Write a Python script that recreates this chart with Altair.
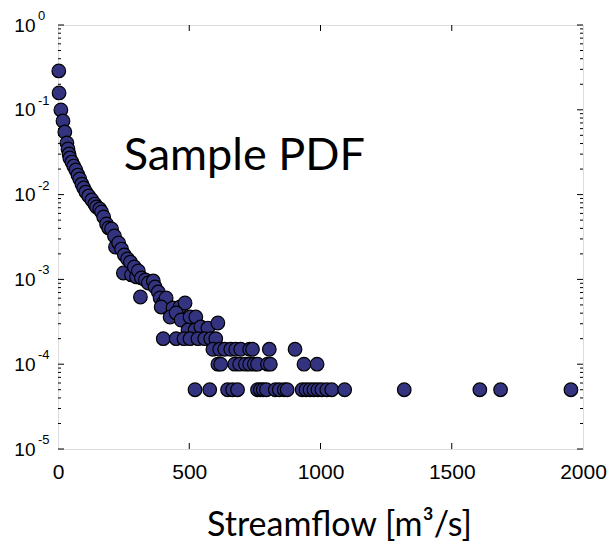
import altair as alt
import pandas as pd

# ---- data ----
flow = [3, 4, 11, 19, 26, 34, 38, 42, 45, 53, 60, 68, 76, 83, 91, 98, 106, 117, 129, 140,
        147, 159, 166, 174, 185, 193, 204, 215, 219, 231, 242, 253, 249, 265, 276, 280, 291,
        299, 306, 318, 333, 344, 363, 370, 382, 389, 401, 412, 393, 438, 465, 484, 427, 450,
        469, 503, 525, 495, 522, 544, 571, 609, 314,
        # 2e-4 row
        401, 450, 480, 503, 533, 559, 582, 601,
        # 1.5e-4 row
        590, 616, 635, 658, 677, 696, 730, 741, 805, 903,
        # 1e-4 row
        609, 620, 673, 692, 714, 730, 748, 760, 798, 809, 937, 987,
        # 5e-5 row
        522, 578, 646, 665, 684, 760, 771, 782, 794, 828, 843, 862, 873, 930, 945, 960,
        975, 990, 1005, 1024, 1043, 1092, 1319, 1607, 1686, 1954]
pdf = [0.287, 0.158, 0.0995, 0.0738, 0.0547, 0.0406, 0.0345, 0.0301, 0.0270, 0.0242, 0.0217,
       0.0195, 0.0170, 0.0153, 0.0133, 0.0120, 0.0107, 0.00962, 0.00863, 0.00774, 0.00714,
       0.00676, 0.00624, 0.00545, 0.00450, 0.00404, 0.00393, 0.00325, 0.00241, 0.00269,
       0.00228, 0.00194, 0.00119, 0.00174, 0.00160, 0.00113, 0.00140, 0.00107, 0.00126,
       0.00104, 0.000984, 0.000907, 0.000957, 0.000813, 0.000710, 0.000604, 0.000527,
       0.000604, 0.000473, 0.000460, 0.000473, 0.000527, 0.000360, 0.000402, 0.000332,
       0.000360, 0.000360, 0.000253, 0.000253, 0.000275, 0.000267, 0.000306, 0.000620]
pdf += [2e-4] * 8 + [1.5e-4] * 10 + [1e-4] * 12 + [5e-5] * 26

y_major = [1, 0.1, 0.01, 0.001, 0.0001, 0.00001]
y_exp = ["0", "-1", "-2", "-3", "-4", "-5"]
y_minor = [m * 10.0 ** k for k in range(-5, 0) for m in range(2, 10)]
x_ticks = [0, 500, 1000, 1500, 2000]
x_inner = [500, 1000, 1500]

W, H = 525, 424

pts = pd.DataFrame({"x": flow, "y": pdf})
ymaj_df = pd.DataFrame({"y": y_major, "e": y_exp})
ymin_df = pd.DataFrame({"y": y_minor})
xin_df = pd.DataFrame({"x": x_inner})
lab_df = pd.DataFrame({"x": [250], "y": [0.0195], "t": ["Sample PDF"]})

xs = alt.Scale(domain=[0, 2000], nice=False, zero=False)
ys = alt.Scale(type="log", domain=[1e-5, 1], nice=False)

xaxis = alt.Axis(values=x_ticks, format="d", ticks=False, domain=False, grid=False,
                 labelFlush=False, labelFont="Liberation Sans", labelFontSize=21,
                 labelColor="black", labelPadding=12,
                 title="Streamflow [m³/s]", titleFont="Lato", titleFontSize=34,
                 titleFontWeight="normal", titleColor="black", titleX=281, titleY=86,
                 titleBaseline="alphabetic", titleAlign="center", titleAnchor="start")
yaxis = alt.Axis(values=y_major, labelExpr="'10'", ticks=False, domain=False, grid=False,
                 labelFont="Liberation Sans", labelFontSize=19, labelColor="black",
                 labelPadding=23, labelFlush=False, title=None)

X = lambda: alt.X("x:Q", scale=xs, axis=xaxis)
Y = lambda: alt.Y("y:Q", scale=ys, axis=yaxis)

left_maj = alt.Chart(ymaj_df).mark_rule(color="black", strokeWidth=1).encode(
    y=Y(), x=alt.value(0), x2=alt.value(6))
left_min = alt.Chart(ymin_df).mark_rule(color="black", strokeWidth=1).encode(
    y=Y(), x=alt.value(0), x2=alt.value(3))
right_maj = alt.Chart(ymaj_df).mark_rule(color="black", strokeWidth=1).encode(
    y=Y(), x=alt.value(W), x2=alt.value(W - 6))
right_min = alt.Chart(ymin_df).mark_rule(color="black", strokeWidth=1).encode(
    y=Y(), x=alt.value(W), x2=alt.value(W - 3))
bot = alt.Chart(xin_df).mark_rule(color="black", strokeWidth=1).encode(
    x=X(), y=alt.value(H), y2=alt.value(H - 6))
top = alt.Chart(xin_df).mark_rule(color="black", strokeWidth=1).encode(
    x=X(), y=alt.value(0), y2=alt.value(6))

points = alt.Chart(pts).mark_circle(size=185, opacity=1, color="#33337f",
                                    stroke="black", strokeWidth=1.2).encode(x=X(), y=Y())

exps = alt.Chart(ymaj_df).mark_text(align="left", baseline="alphabetic", font="Liberation Sans",
                                    fontSize=13, color="black", dy=-5).encode(
    y=Y(), x=alt.value(-20), text="e:N")

label = alt.Chart(lab_df).mark_text(align="left", baseline="alphabetic", font="Lato",
                                    fontSize=45, color="black").encode(
    x=X(), y=Y(), text="t:N")

chart = alt.layer(left_maj, left_min, right_maj, right_min, bot, top, points, exps, label).properties(
    width=W, height=H,
    autosize=alt.AutoSizeParams(type="none"),
    padding={"left": 50, "top": 17, "right": 24, "bottom": 93},
).configure_view(stroke="black", strokeWidth=1.5).configure(background="white")

chart.save("out.html", embed_options={"renderer": "svg", "actions": False})
